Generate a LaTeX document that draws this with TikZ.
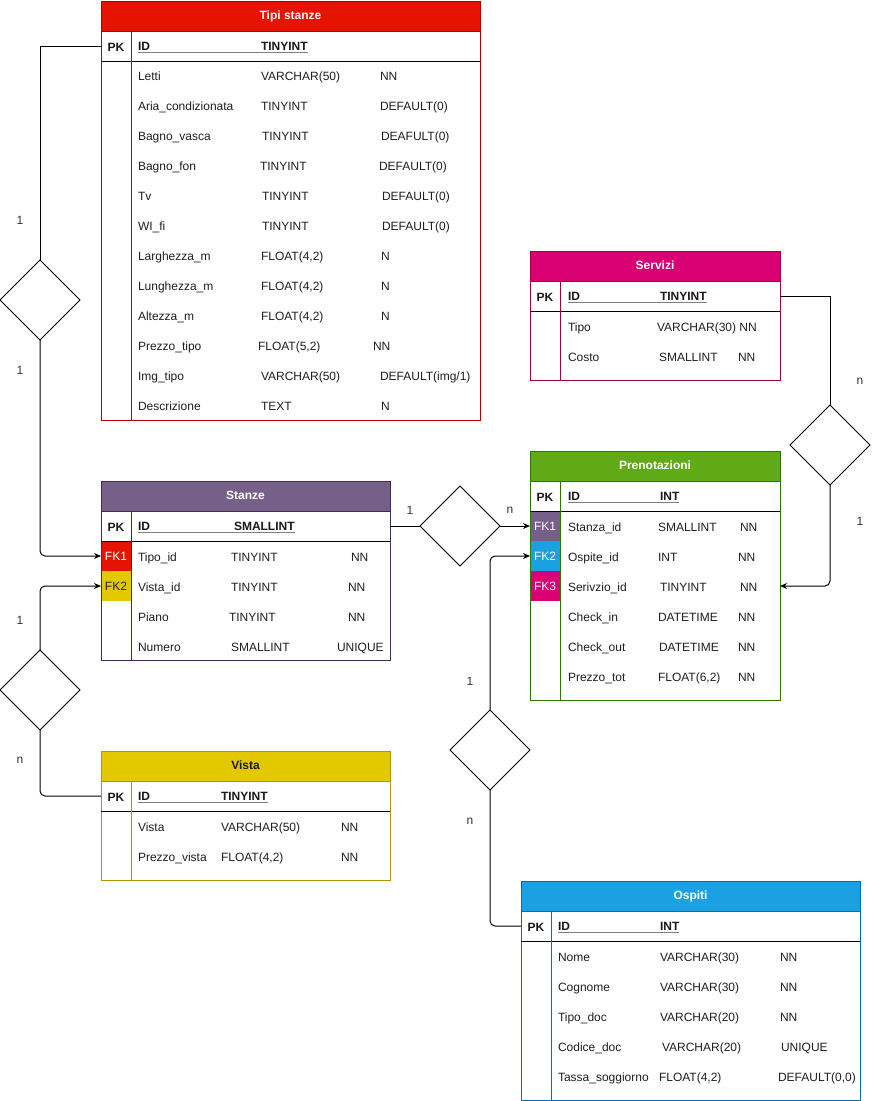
\documentclass[tikz,border=0pt]{standalone}
\usepackage{fontspec}
\setmainfont{Liberation Sans}
\usetikzlibrary{shapes.geometric,arrows.meta}
\definecolor{redF}{HTML}{E51400}\definecolor{redS}{HTML}{B20000}
\definecolor{pinkF}{HTML}{D80073}\definecolor{pinkS}{HTML}{A50040}
\definecolor{greenF}{HTML}{60A917}\definecolor{greenS}{HTML}{2D7600}
\definecolor{purpF}{HTML}{76608A}\definecolor{purpS}{HTML}{432D57}
\definecolor{yelF}{HTML}{E3C800}\definecolor{yelS}{HTML}{B09500}
\definecolor{bluF}{HTML}{1BA1E2}\definecolor{bluS}{HTML}{006EAF}
\newcounter{tc}
\tikzset{
  txt/.style={anchor=base west, inner sep=0, outer sep=0, font=\fontsize{12}{14}\selectfont, text=black!88},
  txtb/.style={txt, font=\fontsize{12}{14}\selectfont\bfseries, text=black!90},
  hdr/.style={inner sep=0, outer sep=0, line width=1pt, minimum height=30, font=\fontsize{12}{14}\selectfont\bfseries, text height=9, text depth=2.5},
  pk/.style={inner sep=0, font=\fontsize{12}{14}\selectfont\bfseries, text=black!90, text height=9, text depth=0},
  fk/.style={inner sep=0, outer sep=0, minimum width=30, minimum height=30, font=\fontsize{12}{14}\selectfont, text=white, text height=9, text depth=0},
  rowbox/.style={inner sep=0, outer sep=0, minimum height=30},
  rel/.style={draw=black, diamond, aspect=1, minimum width=80, minimum height=80, inner sep=0, outer sep=0, line width=1pt, fill=white},
  conn/.style={draw=black, line width=1pt},
  arr/.style={conn, rounded corners=5pt, -{Stealth[length=7pt,width=6pt]}},
  lbl/.style={inner sep=0, font=\fontsize{12}{14}\selectfont, text=black!80},
  ul/.style={draw=black!50, line width=1pt},
}
\newcommand\tx[3]{\stepcounter{tc}\node[txt] (t\thetc) at (#1,{#2+5}) {#3};}
\newcommand\rw[7]{\tx{#2}{#1}{#3}\tx{#4}{#1}{#5}\tx{#6}{#1}{#7}}
\newcommand\idrow[5]{%
  \node[txtb] (#1-id) at (#3,{#2+4.8}) {ID};
  \node[txtb] (#1-ty) at (#4,{#2+4.8}) {#5};
  \draw[ul] ([yshift=-2pt]#1-id.base west) -- ([yshift=-2pt]#1-ty.base east);}
% name, L, T, R, B, fill, stroke, title, titlecolor
\newcommand\ertable[9]{%
  \node[draw=#7, line width=1pt, minimum width={#4-#2}, minimum height={#5-#3-30}, inner sep=0, outer sep=0] (#1-body) at ({(#2+#4)/2},{(#3+30+#5)/2}) {};
  \draw[black, line width=1pt] (#2,{#3+60}) -- (#4,{#3+60});
  \draw[#7, line width=1pt] ({#2+30},{#3+30}) -- ({#2+30},#5);
  \node[hdr, fill=#6, draw=#7, text=#9, minimum width={#4-#2}] (#1) at ({(#2+#4)/2},{#3+15}) {#8};
  \node[rowbox, minimum width={#4-#2}] (#1-pk) at ({(#2+#4)/2},{#3+45}) {};
  \node[pk] (#1-pkl) at ({#2+15},{#3+46}) {PK};}
\begin{document}
\begin{tikzpicture}[x=1pt,y=-1pt]
\useasboundingbox[fill=white] (0,0) rectangle (881,1101);

% ---------- Tipi stanze
\ertable{ts}{101}{1}{480}{420}{redF}{redS}{Tipi stanze}{white}
\idrow{ts}{46}{138}{261}{TINYINT}
\rw{75}{138}{Letti}{261}{VARCHAR(50)}{380}{NN}
\rw{105}{138}{Aria\_condizionata}{261}{TINYINT}{380}{DEFAULT(0)}
\rw{135}{138}{Bagno\_vasca}{262}{TINYINT}{381}{DEAFULT(0)}
\rw{165}{138}{Bagno\_fon}{260}{TINYINT}{379}{DEFAULT(0)}
\rw{195}{138}{Tv}{262}{TINYINT}{382}{DEFAULT(0)}
\rw{225}{138}{WI\_fi}{262}{TINYINT}{382}{DEFAULT(0)}
\rw{255}{138}{Larghezza\_m}{261}{FLOAT(4,2)}{381}{N}
\rw{285}{138}{Lunghezza\_m}{261}{FLOAT(4,2)}{381}{N}
\rw{315}{138}{Altezza\_m}{261}{FLOAT(4,2)}{381}{N}
\rw{345}{138}{Prezzo\_tipo}{258}{FLOAT(5,2)}{373}{NN}
\rw{375}{138}{Img\_tipo}{261}{VARCHAR(50)}{380}{DEFAULT(img/1)}
\rw{405}{138}{Descrizione}{261}{TEXT}{381}{N}

% ---------- Servizi
\ertable{se}{530}{251}{780}{380}{pinkF}{pinkS}{Servizi}{white}
\idrow{se}{296}{568}{660}{TINYINT}
\tx{568}{326}{Tipo}\tx{657}{326}{VARCHAR(30) NN}
\rw{356}{568}{Costo}{659}{SMALLINT}{738}{NN}

% ---------- Prenotazioni
\node[fk, fill=purpF] (pr-fk1) at (545,526) {FK1};
\node[fk, fill=bluF] (pr-fk2) at (545,556) {FK2};
\node[fk, fill=pinkF] (pr-fk3) at (545,586) {FK3};
\ertable{pr}{530}{451}{780}{700}{greenF}{greenS}{Prenotazioni}{white}
\node[rowbox, minimum width=250] (pr-row3) at (655,586) {};
\idrow{pr}{496}{568}{660}{INT}
\rw{526}{568}{Stanza\_id}{658}{SMALLINT}{740}{NN}
\rw{556}{568}{Ospite\_id}{658}{INT}{738}{NN}
\rw{586}{568}{Serivzio\_id}{660}{TINYINT}{740}{NN}
\rw{616}{568}{Check\_in}{658}{DATETIME}{738}{NN}
\rw{646}{568}{Check\_out}{659}{DATETIME}{738}{NN}
\rw{676}{568}{Prezzo\_tot}{658}{FLOAT(6,2)}{738}{NN}

% ---------- Stanze
\node[fk, fill=redF] (st-fk1) at (116,556) {FK1};
\node[fk, fill=yelF, text=black!85] (st-fk2) at (116,586) {FK2};
\ertable{st}{101}{481}{390}{660}{purpF}{purpS}{Stanze}{white}
\idrow{st}{526}{138}{234}{SMALLINT}
\rw{556}{138}{Tipo\_id}{231}{TINYINT}{351}{NN}
\rw{586}{138}{Vista\_id}{231}{TINYINT}{348}{NN}
\rw{616}{138}{Piano}{229}{TINYINT}{348}{NN}
\rw{646}{138}{Numero}{231}{SMALLINT}{337}{UNIQUE}

% ---------- Vista
\ertable{vi}{101}{751}{390}{880}{yelF}{yelS}{Vista}{black!90}
\idrow{vi}{796}{138}{221}{TINYINT}
\rw{826}{138}{Vista}{221}{VARCHAR(50)}{341}{NN}
\rw{856}{138}{Prezzo\_vista}{221}{FLOAT(4,2)}{341}{NN}

% ---------- Ospiti
\ertable{os}{521}{881}{860}{1100}{bluF}{bluS}{Ospiti}{white}
\idrow{os}{926}{558}{660}{INT}
\rw{956}{558}{Nome}{660}{VARCHAR(30)}{780}{NN}
\rw{986}{558}{Cognome}{660}{VARCHAR(30)}{780}{NN}
\rw{1016}{558}{Tipo\_doc}{660}{VARCHAR(20)}{780}{NN}
\rw{1046}{558}{Codice\_doc}{662}{VARCHAR(20)}{781}{UNIQUE}
\rw{1076}{558}{Tassa\_soggiorno}{659}{FLOAT(4,2)}{778}{DEFAULT(0,0)}

% ---------- relationships
\node[rel] (d1) at (40,300) {};
\node[rel] (d2) at (40,690) {};
\node[rel] (d3) at (460,526) {};
\node[rel] (d4) at (830,445) {};
\node[rel] (d5) at (490,750) {};

\draw[conn] (ts-pk.west) -| (d1.north);
\draw[arr] (d1.south) |- (st-fk1.west);
\draw[conn, rounded corners=5pt] (vi-pk.west) -| (d2.south);
\draw[arr] (d2.north) |- (st-fk2.west);
\draw[conn] (st-pk.east) -- (d3.west);
\draw[arr] (d3.east) -- (pr-fk1.west);
\draw[conn] (se-pk.east) -| (d4.north);
\draw[arr] (d4.south) |- (pr-row3.east);
\draw[conn, rounded corners=5pt] (os-pk.west) -| (d5.south);
\draw[arr] (d5.north) |- (pr-fk2.west);

% ---------- cardinalities
\node[lbl] (c1) at (20,220) {1};
\node[lbl] (c2) at (20,370) {1};
\node[lbl] (c3) at (20,620) {1};
\node[lbl] (c4) at (20,760) {n};
\node[lbl] (c5) at (410,510) {1};
\node[lbl] (c6) at (510,510) {n};
\node[lbl] (c7) at (860,381) {n};
\node[lbl] (c8) at (860,521) {1};
\node[lbl] (c9) at (470,681) {1};
\node[lbl] (c10) at (470,821) {n};
\end{tikzpicture}
\end{document}
